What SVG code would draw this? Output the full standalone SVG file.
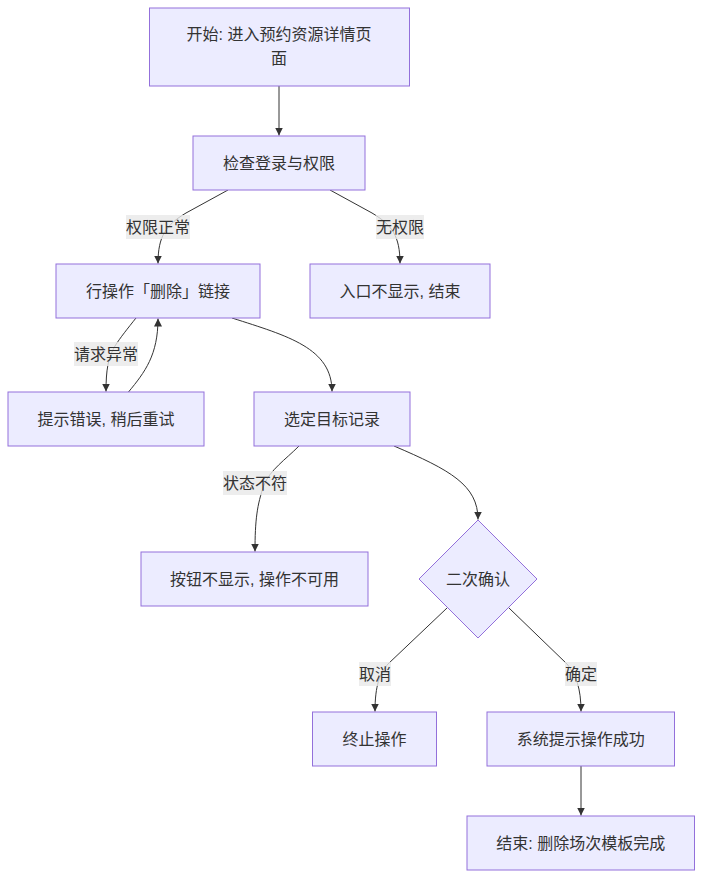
<svg xmlns="http://www.w3.org/2000/svg" width="703" height="878" viewBox="0 0 703 878">
<style>
.node rect, .node polygon { fill: #ECECFF; stroke: #9370DB; stroke-width: 1px; }
text { font-family: "Liberation Sans", "Noto Sans CJK SC", sans-serif; font-size: 16px; fill: #333333; text-anchor: middle; }
.edge { fill: none; stroke: #333333; stroke-width: 1px; }
.lbl { fill: #e8e8e8; fill-opacity: 0.8; stroke: none; }
</style>
<defs>
<marker id="arrow" viewBox="0 0 10 10" refX="10" refY="5" markerUnits="userSpaceOnUse" markerWidth="8" markerHeight="8" orient="auto">
<path d="M0,0 L10,5 L0,10 z" fill="#333333"/>
</marker>
</defs>
<rect width="703" height="878" fill="#ffffff"/>
<g id="connectors">
<path class="edge" d="M279,86 L279,135.5" marker-end="url(#arrow)"/>
<path class="edge" d="M228,190 L186,213 C166,225 158,236 158,263.5" marker-end="url(#arrow)"/>
<path class="edge" d="M330,190 L372,213 C392,225 400,236 400,263.5" marker-end="url(#arrow)"/>
<path class="edge" d="M136,318 C128,328 120,338 115,346 C108,358 106,370 106,391.5" marker-end="url(#arrow)"/>
<path class="edge" d="M128.5,392 C145,372 158,355 158,318.5" marker-end="url(#arrow)"/>
<path class="edge" d="M232,318 C288,336 332,348 332,391.5" marker-end="url(#arrow)"/>
<path class="edge" d="M299,446 C285,460 270,470 264,485 C257,505 255,520 255,551.5" marker-end="url(#arrow)"/>
<path class="edge" d="M394,446 C450,470 478,485 478,519.5" marker-end="url(#arrow)"/>
<path class="edge" d="M447,608 L388,664 C380,673 375,685 375,711.5" marker-end="url(#arrow)"/>
<path class="edge" d="M509,608 L567,664 C576,675 581,688 581,711.5" marker-end="url(#arrow)"/>
<path class="edge" d="M581,766 L581,815.5" marker-end="url(#arrow)"/>
<g id="edge-labels">
<rect class="lbl" x="126" y="215" width="64" height="24"/>
<text x="158" y="233">权限正常</text>
<rect class="lbl" x="376" y="215" width="48" height="24"/>
<text x="400" y="233">无权限</text>
<rect class="lbl" x="74" y="342" width="64" height="24"/>
<text x="106" y="360">请求异常</text>
<rect class="lbl" x="223" y="471" width="64" height="24"/>
<text x="255" y="489">状态不符</text>
<rect class="lbl" x="359" y="662" width="32" height="24"/>
<text x="375" y="680">取消</text>
<rect class="lbl" x="565" y="662" width="32" height="24"/>
<text x="581" y="680">确定</text>
</g>
</g>
<g id="A" class="node">
<rect x="149.5" y="8" width="260" height="78"/>
<text x="279" y="40">开始: 进入预约资源详情页</text>
<text x="279" y="64">面</text>
</g>
<g id="B" class="node">
<rect x="193" y="136" width="172" height="54"/>
<text x="279" y="168.5">检查登录与权限</text>
</g>
<g id="C" class="node">
<rect x="56" y="264" width="204" height="54"/>
<text x="158" y="297">行操作「删除」链接</text>
</g>
<g id="D" class="node">
<rect x="310" y="264" width="180" height="54"/>
<text x="400" y="297">入口不显示, 结束</text>
</g>
<g id="E" class="node">
<rect x="8" y="392" width="196" height="54"/>
<text x="106" y="425">提示错误, 稍后重试</text>
</g>
<g id="F" class="node">
<rect x="254" y="392" width="156" height="54"/>
<text x="332" y="425">选定目标记录</text>
</g>
<g id="G" class="node">
<rect x="141" y="552" width="227" height="54"/>
<text x="254.5" y="585">按钮不显示, 操作不可用</text>
</g>
<g id="Q" class="node">
<polygon points="478,520 537,579 478,638 419,579"/>
<text x="478" y="585">二次确认</text>
</g>
<g id="H" class="node">
<rect x="312.5" y="712" width="124" height="54"/>
<text x="374.5" y="745">终止操作</text>
</g>
<g id="I" class="node">
<rect x="487" y="712" width="187.5" height="54"/>
<text x="580.7" y="745">系统提示操作成功</text>
</g>
<g id="J" class="node">
<rect x="467" y="816" width="227.5" height="54"/>
<text x="580.7" y="849">结束: 删除场次模板完成</text>
</g>
</svg>
